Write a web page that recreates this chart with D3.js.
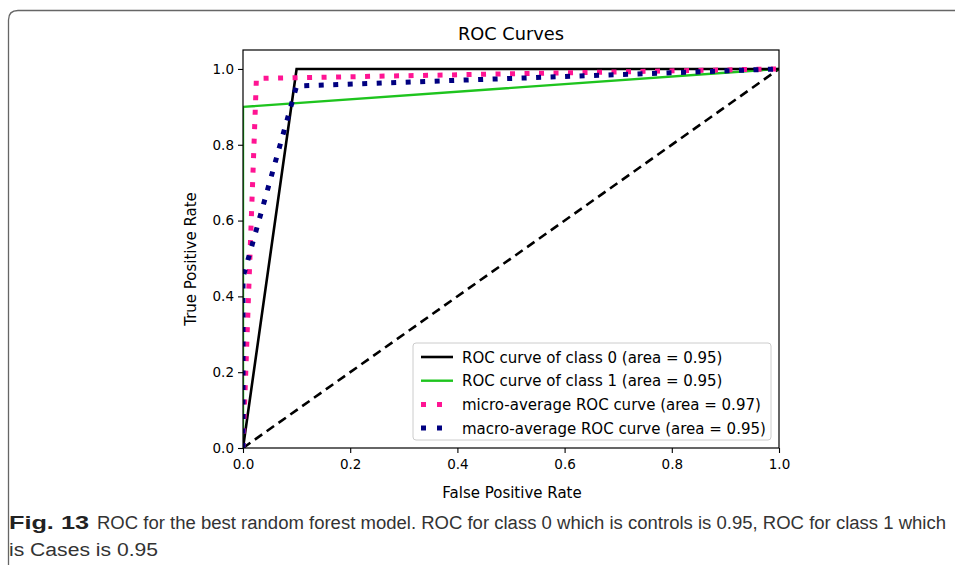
<!DOCTYPE html>
<html lang="en">
<head>
  <meta charset="UTF-8">
  <title>ROC Curves</title>
  <script src="https://d3js.org/d3.v7.min.js"></script>
  <style>
    * { margin: 0; padding: 0; box-sizing: border-box; }
    body { background: #fff; }
    svg text { font-family: "DejaVu Sans", sans-serif; }
    svg text.caption { font-family: "Liberation Sans", "Open Sans", sans-serif; }
  </style>
</head>
<body>
  <div id="chart"></div>
  <script>
    // curve data
    const class0 = [[0, 0], [0.1, 1.0], [1, 1]];
    const class1 = [[0, 0], [0, 0.9], [1, 1]];
    const micro = [[0, 0], [0.025, 0.975], [1, 1]];
    const macro = [[0, 0], [0, 0.45], [0.1, 0.955], [1, 1]];
    const chance = [[0, 0], [1, 1]];

    const xTicks = [0, 0.2, 0.4, 0.6, 0.8, 1.0];
    const yTicks = [0, 0.2, 0.4, 0.6, 0.8, 1.0];

    const legendLabels = [
      "ROC curve of class 0 (area = 0.95)",
      "ROC curve of class 1 (area = 0.95)",
      "micro-average ROC curve (area = 0.97)",
      "macro-average ROC curve (area = 0.95)"
    ];

    const W = 955, H = 565;
    const svg = d3.select("#chart").append("svg")
      .attr("width", W).attr("height", H);

    // figure frame (rounded, runs off right and bottom)
    svg.append("path")
      .attr("d", `M 8.5 ${H + 5} L 8.5 20 Q 8.5 10.5 18 10.5 L ${W + 5} 10.5`)
      .attr("fill", "none").attr("stroke", "#666").attr("stroke-width", 1.3);

    const x = d3.scaleLinear().domain([0, 1]).range([243, 779]);
    const y = d3.scaleLinear().domain([0, 1.05]).range([448, 50]);

    const plot = svg.append("g");

    svg.append("clipPath").attr("id", "clip")
      .append("rect").attr("x", 243).attr("y", 50).attr("width", 536).attr("height", 398);

    const line = d3.line().x(d => x(d[0])).y(d => y(d[1]));
    const lines = plot.append("g").attr("clip-path", "url(#clip)");

    lines.append("path").datum(chance).attr("d", line)
      .attr("fill", "none").attr("stroke", "#000").attr("stroke-width", 2.6)
      .attr("stroke-dasharray", "9,5.5");
    lines.append("path").datum(class1).attr("d", line)
      .attr("fill", "none").attr("stroke", "#1ec41e").attr("stroke-width", 2.4);
    lines.append("path").datum(class0).attr("d", line)
      .attr("fill", "none").attr("stroke", "#000").attr("stroke-width", 2.6);
    lines.append("path").datum(micro).attr("d", line)
      .attr("fill", "none").attr("stroke", "#ff1493").attr("stroke-width", 5)
      .attr("stroke-dasharray", "5,9.5");
    lines.append("path").datum(macro).attr("d", line)
      .attr("fill", "none").attr("stroke", "#000080").attr("stroke-width", 5)
      .attr("stroke-dasharray", "5,9.5");

    // axes box
    plot.append("rect").attr("x", 243).attr("y", 50).attr("width", 536).attr("height", 398)
      .attr("fill", "none").attr("stroke", "#000").attr("stroke-width", 1.2);

    const xAxis = plot.append("g").attr("transform", "translate(0,448)")
      .call(d3.axisBottom(x).tickValues(xTicks).tickFormat(d3.format(".1f")).tickSize(5).tickSizeOuter(0));
    const yAxis = plot.append("g").attr("transform", "translate(243,0)")
      .call(d3.axisLeft(y).tickValues(yTicks).tickFormat(d3.format(".1f")).tickSize(5).tickSizeOuter(0));
    [xAxis, yAxis].forEach(a => {
      a.select(".domain").remove();
      a.selectAll("text").attr("font-family", "DejaVu Sans").attr("font-size", 13.5).attr("fill", "#000");
      a.selectAll("line").attr("stroke", "#000").attr("stroke-width", 1.1);
    });
    xAxis.selectAll("text").attr("dy", "0.95em");
    yAxis.selectAll("text").attr("x", -9);

    svg.append("text").attr("x", 511).attr("y", 40).attr("text-anchor", "middle")
      .attr("font-size", 17.8).text("ROC Curves");
    svg.append("text").attr("x", 512).attr("y", 498).attr("text-anchor", "middle")
      .attr("font-size", 15).text("False Positive Rate");
    svg.append("text").attr("transform", "translate(196,259) rotate(-90)").attr("text-anchor", "middle")
      .attr("font-size", 15).text("True Positive Rate");

    // legend
    const leg = svg.append("g").attr("transform", "translate(413,343)");
    leg.append("rect").attr("width", 358).attr("height", 97).attr("rx", 3)
      .attr("fill", "#fff").attr("fill-opacity", 0.85).attr("stroke", "#ccc").attr("stroke-width", 1);
    const styles = [
      { c: "#000", w: 2.6, d: null },
      { c: "#1ec41e", w: 2.4, d: null },
      { c: "#ff1493", w: 5, d: "5,11" },
      { c: "#000080", w: 5, d: "5,11" }
    ];
    legendLabels.forEach((t, i) => {
      const yy = 14 + i * 23.7;
      leg.append("line").attr("x1", 8).attr("x2", 40).attr("y1", yy).attr("y2", yy)
        .attr("stroke", styles[i].c).attr("stroke-width", styles[i].w)
        .attr("stroke-dasharray", styles[i].d);
      leg.append("text").attr("x", 49).attr("y", yy + 5.5).attr("font-size", 15).text(t);
    });

    // caption
    const cap = svg.append("g");
    const t1 = cap.append("text").attr("class", "caption").attr("x", 9).attr("y", 529)
      .attr("font-size", 18).attr("fill", "#222");
    t1.append("tspan").attr("font-weight", "bold")
      .attr("textLength", 80).attr("lengthAdjust", "spacingAndGlyphs").text("Fig. 13");
    t1.append("tspan").attr("x", 97).attr("fill", "#333")
      .attr("textLength", 849).attr("lengthAdjust", "spacingAndGlyphs")
      .text("ROC for the best random forest model. ROC for class 0 which is controls is 0.95, ROC for class 1 which");
    cap.append("text").attr("class", "caption").attr("x", 9).attr("y", 556)
      .attr("font-size", 18).attr("fill", "#333")
      .attr("textLength", 149).attr("lengthAdjust", "spacingAndGlyphs")
      .text("is Cases is 0.95");
  </script>
</body>
</html>
